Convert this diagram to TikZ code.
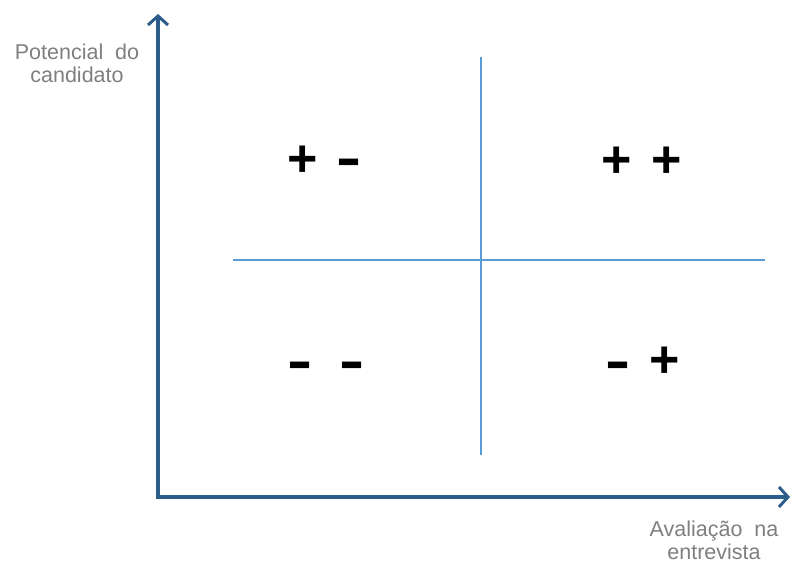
\documentclass[tikz,border=0pt]{standalone}
\usepackage{fontspec}
\setmainfont{Liberation Sans}
\usetikzlibrary{arrows.meta}
\definecolor{axisblue}{HTML}{2B5C8A}
\definecolor{lightblue}{HTML}{5B9BD5}
\definecolor{labelgray}{HTML}{7F7F7F}
\newcommand{\wideminus}{\scalebox{1.45}[1.05]{-}}
\tikzset{
  axis/.style={draw=axisblue, line width=3.6pt, {Straight Barb[length=9pt,width=20pt,line width=3pt]}-{Straight Barb[length=9pt,width=20pt,line width=3pt]}},
  divider/.style={draw=lightblue, line width=1.3pt},
  sign/.style={inner sep=0pt, font=\fontsize{52}{60}\selectfont\bfseries},
  axlabel/.style={text=labelgray, align=center, inner sep=0pt, font=\fontsize{21.5}{23}\selectfont}
}
\begin{document}
\begin{tikzpicture}[x=1pt,y=-1pt]
\useasboundingbox (0,0) rectangle (792,565);
\coordinate (ytop) at (158,14);
\coordinate (O) at (158,497);
\coordinate (xend) at (790,497);
\draw[axis] (ytop) -- (O) -- (xend);
\coordinate (vtop) at (481,57);
\coordinate (vbot) at (481,455);
\coordinate (hl) at (233,260);
\coordinate (hr) at (765,260);
\draw[divider] (vtop) -- (vbot);
\draw[divider] (hl) -- (hr);
\node[sign] (s1) at (303,161) {+};
\node[sign] (s2) at (349,168) {\wideminus};
\node[sign] (s3) at (617,162) {+};
\node[sign] (s4) at (667,162) {+};
\node[sign] (s5) at (300,371) {\wideminus};
\node[sign] (s6) at (352,371) {\wideminus};
\node[sign] (s7) at (618,371) {\wideminus};
\node[sign] (s8) at (665,362) {+};
\node[axlabel] (ylab) at (77,63) {Potencial\ \ do\\candidato};
\node[axlabel] (xlab) at (714,540) {Avaliação\ \ na\\entrevista};
\end{tikzpicture}
\end{document}
